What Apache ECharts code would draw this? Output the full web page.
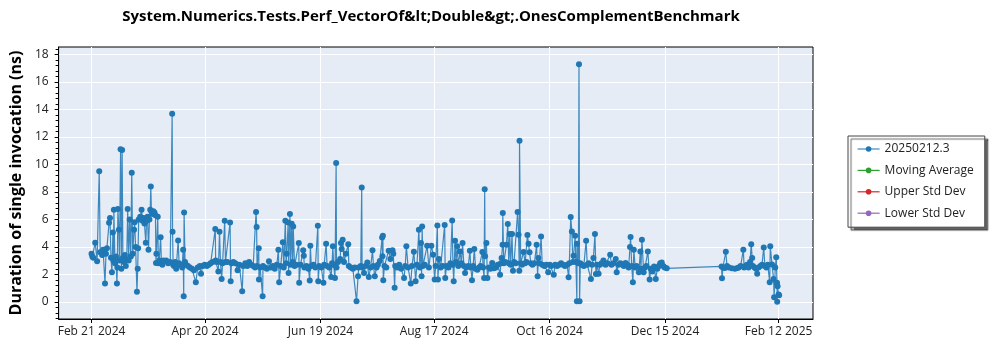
<!DOCTYPE html>
<html>
<head>
<meta charset="utf-8">
<script src="https://cdn.jsdelivr.net/npm/echarts@6/dist/echarts.min.js"></script>
<style>html,body{margin:0;padding:0;background:#fff}#c{width:1000px;height:350px}</style>
</head>
<body>
<div id="c"></div>
<script>
// Days since 2024-02-21 for each run, and measured durations (ns)
const BASE_DATE = '2024-02-21';
const runDays = [
0.0,0.4,0.9,1.9,2.9,4.0,4.5,5.5,6.0,7.0,7.5,8.0,9.1,9.6,10.1,10.6,11.1,11.4,11.6,12.2,12.7,13.2,13.4,13.7,14.2,14.5,15.1,15.5,15.9,16.3,16.8,17.3,17.8,18.3,18.8,19.3,19.8,20.4,20.9,21.4,22.1,22.4,22.9,23.6,24.0,24.2,24.5,25.3,26.0,26.5,27.0,27.5,28.2,28.6,29.1,29.6,30.1,30.5,30.8,31.1,31.6,32.1,32.7,33.2,33.5,33.7,34.4,34.7,35.2,35.9,36.3,36.8,37.3,38.8,39.8,40.9,41.9,42.1,42.4,42.9,43.5,44.0,45.0,45.5,46.0,47.1,47.6,47.9,48.1,48.6,49.1,50.1,51.1,52.2,53.2,54.2,55.2,56.3,56.9,57.8,58.8,59.9,60.9,61.9,62.9,64.3,64.5,65.0,65.9,66.5,67.0,67.6,68.1,69.2,69.6,70.6,72.0,72.3,72.7,73.7,74.7,75.9,76.8,78.3,78.8,79.9,80.9,81.9,82.9,84.0,85.0,85.5,85.8,86.0,86.9,87.0,87.6,88.9,89.1,
90.1,91.1,92.2,93.2,94.2,95.2,96.3,97.1,97.5,98.3,99.4,99.9,100.7,101.1,101.4,102.2,102.4,103.1,103.5,104.0,104.5,104.8,105.5,106.5,107.7,107.9,108.6,110.0,110.3,110.6,111.7,112.7,113.4,113.7,114.2,115.3,116.3,117.6,117.8,118.3,119.4,120.5,120.9,121.9,122.4,123.5,124.5,125.0,125.4,125.8,126.5,127.1,127.3,128.1,129.2,129.6,130.0,130.5,131.2,132.2,133.4,133.7,134.7,135.8,136.8,137.7,138.5,138.8,139.9,140.4,140.6,141.6,142.4,143.3,144.1,145.0,146.0,146.5,147.2,148.1,148.8,149.8,151.0,151.2,151.4,151.6,152.2,153.2,154.4,155.3,156.4,156.8,157.5,157.8,158.8,159.9,160.9,162.4,163.0,163.6,164.5,165.9,166.5,167.5,168.4,169.1,170.1,170.6,171.2,171.5,171.8,172.2,173.2,174.4,175.3,176.6,177.5,178.3,178.8,179.7,180.0,180.5,181.4,182.4,183.5,183.8,184.5,185.5,186.5,187.4,187.8,188.2,188.9,189.4,190.0,190.6,191.5,192.2,192.8,193.5,194.1,194.7,195.8,196.6,197.1,197.7,198.3,198.9,199.6,200.5,201.4,202.2,203.1,203.5,204.0,204.3,204.5,205.2,205.7,206.5,207.3,208.2,209.1,210.1,211.1,212.3,212.7,213.1,213.6,213.7,214.2,215.0,215.6,216.3,216.8,217.3,217.8,218.5,219.0,219.6,220.4,221.4,221.9,222.3,222.4,223.0,223.7,224.5,225.3,226.0,226.5,227.1,227.6,228.3,229.1,230.1,231.3,231.8,232.2,232.7,233.6,234.2,235.3,236.3,237.3,238.1,238.9,240.2,240.9,241.9,243.0,244.0,245.0,246.0,247.1,247.9,248.3,249.0,249.6,250.1,250.5,251.3,251.7,252.2,252.3,253.0,253.3,253.6,254.0,254.8,255.8,257.0,257.6,258.3,259.5,260.1,260.8,261.6,262.1,262.7,263.5,264.2,265.0,266.0,267.1,268.1,269.5,270.2,271.2,272.4,272.9,273.8,274.8,275.9,276.6,277.5,278.4,279.1,279.8,280.1,280.7,281.3,281.8,282.5,283.2,284.4,285.2,285.5,286.0,286.9,287.6,288.3,289.1,290.0,290.6,291.4,292.3,293.2,294.0,294.8,295.5,296.3,297.1,297.8,298.9,
327.4,327.6,328.1,329.1,329.6,330.2,331.2,332.7,334.3,335.6,336.3,337.3,338.7,339.1,339.9,340.6,341.4,342.2,342.8,343.3,343.7,344.5,345.3,345.9,346.6,347.6,348.4,349.3,349.9,350.7,351.4,352.4,352.7,353.6,354.4,354.7,355.3,355.8,356.2,356.3,356.5,357.0,357.3
];
const durations = [
3.5,3.3,3.2,4.3,2.95,9.5,3.6,3.4,3.8,1.33,3.5,3.9,5.75,6.1,3.2,2.15,5.05,3.0,6.7,2.8,3.3,1.33,2.5,6.75,5.25,3.0,11.1,2.4,11.05,3.2,2.9,3.4,2.6,3.1,6.75,3.0,6.0,3.3,9.4,3.5,5.25,5.8,4.0,0.73,2.4,3.9,6.0,6.2,6.7,5.9,6.1,5.7,4.3,5.9,6.2,3.8,6.0,6.7,8.4,6.6,6.4,6.6,6.5,6.3,2.83,3.5,6.2,2.8,3.0,4.7,2.9,2.7,3.0,3.0,2.8,2.9,13.7,5.1,2.7,2.6,2.9,2.4,4.47,2.8,2.7,2.5,3.8,0.4,6.5,2.9,2.7,2.6,2.5,2.4,2.3,1.42,2.5,2.6,2.05,2.6,2.7,2.6,2.7,2.8,2.9,5.3,3.0,2.9,2.2,5.1,2.9,1.67,2.8,5.9,2.9,2.9,5.78,1.5,2.8,2.9,2.8,2.3,2.7,0.77,2.6,2.8,2.6,2.9,2.7,2.6,2.5,6.53,5.44,2.6,3.9,1.62,2.5,0.4,2.6,
2.5,2.4,2.95,2.5,2.6,2.4,2.7,3.8,1.42,2.6,4.33,2.5,5.9,2.8,3.5,5.78,2.1,6.4,2.7,5.68,2.9,5.49,2.6,2.7,4.28,1.38,2.7,3.75,3.36,2.5,2.6,2.4,1.55,4.09,2.6,2.7,2.5,5.54,1.5,2.6,2.5,1.38,2.7,4.23,2.6,2.5,1.81,2.8,4.04,2.7,1.74,10.1,2.5,2.9,3.12,4.28,3.85,4.52,2.9,3.5,4.2,2.6,2.5,2.4,2.5,0.04,1.86,2.5,2.6,8.32,2.5,2.1,2.6,2.87,1.81,2.5,3.75,2.6,1.86,2.5,2.7,2.97,4.69,3.31,4.81,1.57,2.6,2.5,3.72,3.12,3.75,3.5,1.02,2.6,2.5,2.7,2.4,1.74,2.6,4.04,2.5,1.33,2.6,3.65,1.5,2.7,5.25,2.5,4.28,1.86,5.49,2.6,2.7,4.09,2.5,4.09,3.43,1.62,2.6,5.56,1.62,3.12,2.5,2.6,5.6,1.74,2.6,2.5,2.8,5.92,2.7,1.5,4.45,2.9,4.04,2.6,3.67,2.8,4.28,2.6,2.1,2.5,2.6,3.72,2.5,1.57,2.6,3.85,2.4,2.34,2.5,2.6,3.63,2.5,1.74,8.2,3.31,4.28,1.74,2.5,2.4,2.83,2.45,2.5,2.7,1.98,2.8,3.19,4.16,6.46,2.8,2.9,4.16,5.66,2.8,4.93,2.7,4.93,2.27,2.9,2.8,6.53,4.88,2.27,11.73,2.8,2.7,3.63,2.8,2.9,4.86,4.23,3.6,2.8,2.7,2.8,4.16,1.86,3.19,2.8,4.76,2.7,2.6,2.7,2.15,2.7,2.6,1.98,2.7,2.6,2.7,2.8,2.7,2.6,2.7,1.79,2.8,6.17,5.12,2.9,3.36,4.81,2.9,0.04,4.23,2.8,17.3,0.04,2.8,2.7,2.6,4.45,2.7,2.8,1.67,2.7,3.19,4.93,2.03,2.7,2.05,2.7,2.8,3.0,2.7,2.8,3.43,2.7,2.8,3.12,2.15,2.7,2.8,2.7,2.6,2.83,2.7,2.5,3.99,4.72,2.6,1.42,3.8,2.5,2.6,2.15,3.67,2.4,4.52,2.15,2.5,2.6,3.67,1.62,2.4,2.2,2.58,1.67,2.4,2.6,2.8,2.87,2.6,2.5,2.44,
2.58,1.71,2.5,2.47,3.65,2.6,2.5,2.45,2.4,2.47,2.5,2.6,3.8,2.5,2.6,2.7,2.5,2.9,4.2,3.19,2.6,2.5,2.4,2.05,2.5,2.6,2.7,3.96,2.6,2.5,2.7,1.42,4.04,2.71,1.67,0.33,2.5,3.24,1.38,0.0,1.13,0.53,0.48
];
const seriesNames = ['20250212.3', 'Moving Average', 'Upper Std Dev', 'Lower Std Dev'];
// x ticks: Feb 21 2024, Apr 20, Jun 19, Aug 17, Oct 16, Dec 15, Feb 12 2025 (days since base)
const xTickDays = [0, 59, 119, 178, 238, 298, 357];
const yTickValues = [0, 2, 4, 6, 8, 10, 12, 14, 16, 18];
const yMinorTicks = [-1.2,-0.8,-0.4,0.4,0.8,1.2,1.6,2.4,2.8,3.2,3.6,4.4,4.8,5.2,5.6,6.4,6.8,7.2,7.6,8.4,8.8,9.2,9.6,10.4,10.8,11.2,11.6,12.4,12.8,13.2,13.6,14.4,14.8,15.2,15.6,16.4,16.8,17.2,17.6,18.4];

const MONTHS = ['Jan','Feb','Mar','Apr','May','Jun','Jul','Aug','Sep','Oct','Nov','Dec'];
const baseMs = Date.parse(BASE_DATE + 'T00:00:00Z');
function dayLabel(v) {
  const d = new Date(baseMs + Math.round(v) * 86400000);
  return MONTHS[d.getUTCMonth()] + ' ' + d.getUTCDate() + ' ' + d.getUTCFullYear();
}
const points = runDays.map((d, i) => [d, durations[i]]);
const FONT = 'Open Sans';
const colors = ['#1f77b4', '#2ca02c', '#d62728', '#9467bd'];

const chart = echarts.init(document.getElementById('c'), null, {renderer: 'canvas'});
chart.setOption({
  animation: false,
  color: colors,
  textStyle: {fontFamily: FONT},
  title: {
    text: 'System.Numerics.Tests.Perf_VectorOf&lt;Double&gt;.OnesComplementBenchmark',
    left: 431, top: 9, textAlign: 'center', padding: 0,
    textStyle: {fontFamily: FONT, fontSize: 15, fontWeight: 'bold', color: '#000'}
  },
  grid: {
    left: 49, right: 187, top: 47, bottom: 31,
    show: true, backgroundColor: '#e5ecf6', borderColor: '#000', borderWidth: 1
  },
  legend: {
    orient: 'vertical', left: 848, top: 136,
    padding: [7, 11, 8, 9], itemGap: 9.4, itemWidth: 22, itemHeight: 7,
    backgroundColor: '#fff', borderColor: '#444', borderWidth: 1,
    shadowColor: 'rgba(0,0,0,0.6)', shadowOffsetX: 3, shadowOffsetY: 3, shadowBlur: 1,
    lineStyle: {width: 1.2},
    textStyle: {fontFamily: FONT, fontSize: 12, color: '#222'},
    data: seriesNames
  },
  xAxis: {
    type: 'value', min: -17.1, max: 374.9,
    axisLine: {show: true, onZero: false, lineStyle: {color: '#000', width: 1}},
    axisTick: {show: true, length: 4, customValues: xTickDays, lineStyle: {color: '#000'}},
    axisLabel: {customValues: xTickDays, formatter: dayLabel, margin: 7, fontFamily: FONT, fontSize: 12, color: '#222'},
    splitLine: {show: true, lineStyle: {color: '#fff', width: 1}}
  },
  yAxis: [{
    type: 'value', min: -1.25, max: 18.55,
    name: 'Duration of single invocation (ns)', nameLocation: 'middle', nameGap: 29,
    nameTextStyle: {fontFamily: FONT, fontSize: 16, fontWeight: 'bold', color: '#000'},
    axisLine: {show: true, onZero: false, lineStyle: {color: '#000', width: 1}},
    axisTick: {show: true, length: 4, customValues: yTickValues, lineStyle: {color: '#000'}},
    axisLabel: {customValues: yTickValues, margin: 10, fontFamily: FONT, fontSize: 12, color: '#222'},
    splitLine: {show: true, lineStyle: {color: '#fff', width: 1}}
  }, {
    type: 'value', min: -1.25, max: 18.55, position: 'left',
    axisLine: {show: false, onZero: false},
    axisTick: {show: true, length: 3, customValues: yMinorTicks, lineStyle: {color: '#000'}},
    axisLabel: {show: false},
    splitLine: {show: false}
  }],
  series: [{
    name: seriesNames[0], type: 'line', data: points,
    symbol: 'circle', symbolSize: 6, showSymbol: true,
    lineStyle: {color: colors[0], width: 1.2, opacity: 0.85},
    itemStyle: {color: colors[0]}
  }, {
    name: seriesNames[1], type: 'line', data: [], symbol: 'circle', symbolSize: 6,
    lineStyle: {color: colors[1]}, itemStyle: {color: colors[1]}
  }, {
    name: seriesNames[2], type: 'line', data: [], symbol: 'circle', symbolSize: 6,
    lineStyle: {color: colors[2]}, itemStyle: {color: colors[2]}
  }, {
    name: seriesNames[3], type: 'line', data: [], symbol: 'circle', symbolSize: 6,
    lineStyle: {color: colors[3]}, itemStyle: {color: colors[3]}
  }]
});
</script>
</body>
</html>
